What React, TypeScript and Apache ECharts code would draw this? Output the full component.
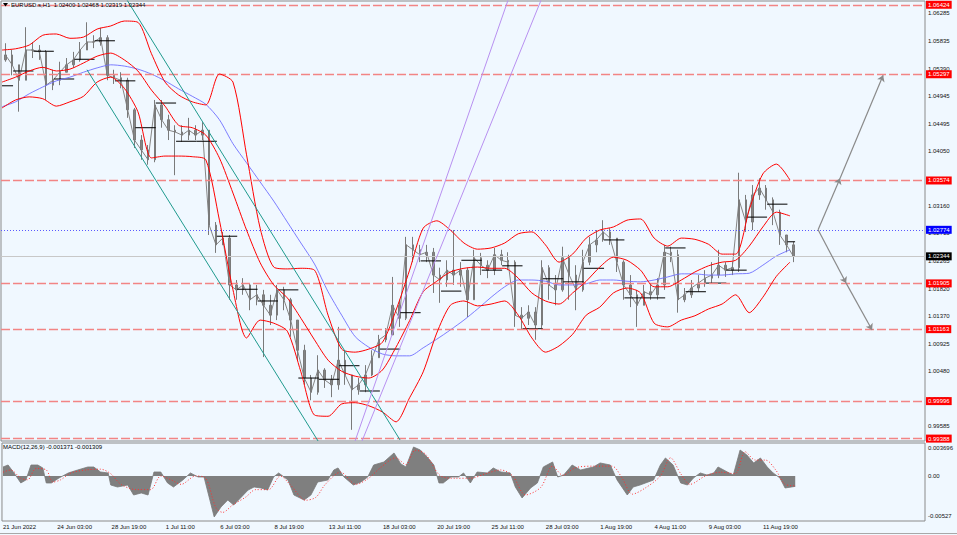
import React, { useEffect, useRef } from 'react';
import * as echarts from 'echarts';

const FONT = "'Liberation Sans', Arial, sans-serif";
const BG = '#F0F8FF';

// ---- axes -----------------------------------------------------------------
const X_MIN = -1.2;
const X_MAX = 1087;
const Y_MIN = 0.99349;
const Y_MAX = 1.06485;
const M_MIN = -0.00594;
const M_MAX = 0.004356;

const xTickBars = [0, 64, 128, 192, 256, 320, 384, 448, 512, 576, 640, 704, 768, 832, 896];
const xTickLabels = [
  '21 Jun 2022', '24 Jun 03:00', '28 Jun 19:00', '1 Jul 11:00', '6 Jul 03:00', '8 Jul 19:00',
  '13 Jul 11:00', '18 Jul 03:00', '20 Jul 19:00', '25 Jul 11:00', '28 Jul 03:00', '1 Aug 19:00',
  '4 Aug 11:00', '9 Aug 03:00', '11 Aug 19:00',
];
const priceTicks = [
  1.06285, 1.05835, 1.0539, 1.04945, 1.04495, 1.0405, 1.03605, 1.0316, 1.02715, 1.02265,
  1.0182, 1.0137, 1.00925, 1.0048, 1.00035, 0.99585,
];
const macdTicks = [0.003696, 0, -0.00527];
const macdTickLabels = ['0.003696', '0.00', '-0.00527'];

// ---- price (8 H1 bars per candle) ----------------------------------------
const barsPerCandle = 8;
const firstOpen = 1.0553;
const closes = [
  1.0561, 1.0545, 1.052, 1.0569, 1.0569, 1.0566, 1.0512, 1.052, 1.0533, 1.0545,
  1.0553, 1.0569, 1.0582, 1.0582, 1.0589, 1.0528, 1.0524, 1.052, 1.0472, 1.0423,
  1.0407, 1.0391, 1.048, 1.0456, 1.0439, 1.0436, 1.0431, 1.0439, 1.0431, 1.0439,
  1.0285, 1.0253, 1.0264, 1.0188, 1.018, 1.0188, 1.0164, 1.0172, 1.0155, 1.0139,
  1.018, 1.0164, 1.0131, 1.0082, 1.0037, 1.0014, 1.005, 1.0034, 1.0026, 1.0066,
  1.0042, 1.0018, 1.0026, 1.0042, 1.007, 1.0099, 1.0107, 1.0155, 1.0134, 1.0253,
  1.0245, 1.0237, 1.0241, 1.0204, 1.0196, 1.0212, 1.0204, 1.0212, 1.0164, 1.0232,
  1.022, 1.0212, 1.0237, 1.0228, 1.0225, 1.0139, 1.0134, 1.0144, 1.0123, 1.0216,
  1.0188, 1.018, 1.0232, 1.0204, 1.018, 1.0225, 1.0253, 1.0261, 1.0274, 1.0264,
  1.0225, 1.0188, 1.0172, 1.0155, 1.0177, 1.0172, 1.0188, 1.0241, 1.0237, 1.0164,
  1.0172, 1.0183, 1.0191, 1.0199, 1.0204, 1.022, 1.0212, 1.0216, 1.0326, 1.029,
  1.0334, 1.0345, 1.0326, 1.0306, 1.0269, 1.0253, 1.02344,
];
const highs = [
  1.058, 1.0569, 1.0545, 1.0606, 1.0582, 1.0577, 1.0569, 1.0537, 1.055, 1.0556,
  1.0566, 1.0582, 1.0614, 1.0593, 1.0605, 1.0593, 1.0537, 1.0533, 1.0524, 1.0475,
  1.0431, 1.0415, 1.0488, 1.0488, 1.0464, 1.0447, 1.0447, 1.0459, 1.0447, 1.0452,
  1.0439, 1.029, 1.0274, 1.0269, 1.0196, 1.0199, 1.0191, 1.0188, 1.018, 1.0172,
  1.0188, 1.0185, 1.0167, 1.0131, 1.0091, 1.0042, 1.0074, 1.0053, 1.0042, 1.012,
  1.0082, 1.0042, 1.0037, 1.0058, 1.0082, 1.0107, 1.0118, 1.0201, 1.0164, 1.0266,
  1.0266, 1.0253, 1.0253, 1.0248, 1.0216, 1.0228, 1.0277, 1.0225, 1.0216, 1.0245,
  1.024, 1.0228, 1.0248, 1.0245, 1.0241, 1.0228, 1.0152, 1.0155, 1.0152, 1.0228,
  1.022, 1.0204, 1.025, 1.0237, 1.022, 1.0245, 1.0266, 1.0277, 1.0293, 1.028,
  1.0264, 1.0228, 1.0204, 1.018, 1.0188, 1.0191, 1.0199, 1.0253, 1.025, 1.0245,
  1.0183, 1.0196, 1.0204, 1.0212, 1.0225, 1.0245, 1.0225, 1.0225, 1.037, 1.0334,
  1.035, 1.0361, 1.035, 1.033, 1.031, 1.0269, 1.0258,
];
const lows = [
  1.055, 1.0528, 1.0469, 1.052, 1.0556, 1.0553, 1.0488, 1.0504, 1.0512, 1.0533,
  1.054, 1.055, 1.0569, 1.0572, 1.0576, 1.052, 1.0514, 1.0507, 1.0459, 1.041,
  1.0391, 1.0383, 1.0387, 1.0443, 1.0423, 1.0366, 1.042, 1.0423, 1.0423, 1.0423,
  1.0269, 1.024, 1.0253, 1.0164, 1.0164, 1.0172, 1.0147, 1.0155, 1.0071, 1.0123,
  1.0131, 1.0147, 1.0104, 1.0066, 1.0026, 1.0001, 1.001, 1.0021, 1.0006, 1.0018,
  1.0026, 0.9953, 1.001, 1.0014, 1.004, 1.007, 1.0095, 1.0107, 1.012, 1.0131,
  1.0225, 1.0225, 1.0225, 1.0175, 1.0159, 1.0185, 1.0188, 1.0185, 1.0136, 1.0164,
  1.0204, 1.0199, 1.0204, 1.022, 1.0212, 1.012, 1.0115, 1.0123, 1.0099, 1.0115,
  1.0164, 1.0155, 1.0177, 1.0164, 1.0147, 1.0177, 1.022, 1.0241, 1.0258, 1.0253,
  1.0209, 1.0164, 1.0152, 1.012, 1.0155, 1.0164, 1.0164, 1.018, 1.0225, 1.0143,
  1.016, 1.0167, 1.0177, 1.0185, 1.0191, 1.0199, 1.0201, 1.0204, 1.0209, 1.0274,
  1.0277, 1.0326, 1.031, 1.0285, 1.0253, 1.0241, 1.0225,
];

// ---- Bollinger bands and moving average (one point every 16 H1 bars) ------
const bandStep = 16;
const bbUpper = [
  1.0569, 1.0571, 1.0577, 1.0593, 1.0595, 1.0588, 1.059, 1.0603, 1.0608, 1.0616,
  1.0614, 1.0563, 1.0517, 1.0496, 1.0485, 1.048, 1.053, 1.0517, 1.0399, 1.028,
  1.0217, 1.0214, 1.0215, 1.0212, 1.0139, 1.0084, 1.0079, 1.0084, 1.0095, 1.0147,
  1.0212, 1.028, 1.0292, 1.0277, 1.0256, 1.0246, 1.0248, 1.0256, 1.0271, 1.0274,
  1.0253, 1.0225, 1.0238, 1.0264, 1.0277, 1.0282, 1.0293, 1.0295, 1.0264, 1.0251,
  1.0264, 1.0262, 1.0254, 1.0238, 1.0238, 1.031, 1.0368, 1.0384, 1.0358,
];
const bbMiddle = [
  1.0517, 1.0525, 1.0535, 1.0541, 1.0535, 1.0538, 1.0548, 1.0559, 1.0564, 1.0553,
  1.0535, 1.0504, 1.0478, 1.0447, 1.0443, 1.0431, 1.0394, 1.0337, 1.0277, 1.0224,
  1.0188, 1.0167, 1.0134, 1.0099, 1.0066, 1.0048, 1.004, 1.0037, 1.005, 1.0087,
  1.013, 1.0177, 1.0194, 1.0209, 1.0215, 1.0217, 1.0215, 1.0215, 1.0199, 1.0175,
  1.0162, 1.0157, 1.0175, 1.0194, 1.0217, 1.0233, 1.0228, 1.0212, 1.0185, 1.0185,
  1.0196, 1.0209, 1.0219, 1.0225, 1.0228, 1.0251, 1.0282, 1.0306, 1.03,
];
const bbLower = [
  1.0475, 1.0488, 1.0493, 1.049, 1.0478, 1.0485, 1.0494, 1.0517, 1.0525, 1.0507,
  1.0469, 1.0394, 1.0397, 1.0397, 1.0396, 1.0391, 1.0293, 1.018, 1.0102, 1.0131,
  1.0126, 1.0113, 1.0047, 0.9977, 0.9975, 0.9995, 0.9997, 0.9992, 0.9982, 0.9966,
  1.0005, 1.0047, 1.011, 1.0155, 1.0162, 1.0154, 1.0157, 1.0162, 1.0139, 1.0102,
  1.0079, 1.0089, 1.0108, 1.0139, 1.0152, 1.0175, 1.0183, 1.0175, 1.0126, 1.012,
  1.0131, 1.0138, 1.0149, 1.0157, 1.0172, 1.0143, 1.0168, 1.0202, 1.0225,
];
const maBlue = [
  1.0477, 1.0485, 1.0498, 1.0509, 1.0519, 1.0525, 1.0533, 1.054, 1.0545, 1.0543,
  1.0538, 1.053, 1.0519, 1.0506, 1.0494, 1.0481, 1.0456, 1.0417, 1.0386, 1.0355,
  1.0324, 1.029, 1.0256, 1.0222, 1.0177, 1.0139, 1.0104, 1.0087, 1.0076, 1.0073,
  1.0073, 1.0086, 1.01, 1.0115, 1.0131, 1.0149, 1.0168, 1.0185, 1.0196, 1.0196,
  1.0194, 1.0188, 1.0188, 1.019, 1.0196, 1.0196, 1.0194, 1.0193, 1.0196, 1.0201,
  1.0206, 1.0206, 1.0204, 1.0204, 1.0206, 1.0207, 1.022, 1.0235, 1.0245,
];

// ---- daily level segments ------------------------------------------------
const lastBar = 934;
const dayStarts = [
  0, 13, 37, 61, 85, 109, 133, 157, 181, 205, 229, 253, 277, 301, 325, 349, 373, 397, 421, 445,
  469, 493, 517, 541, 565, 589, 613, 637, 661, 685, 709, 733, 757, 781, 805, 829, 853, 877, 901, 925,
];
const dayLevels = [
  1.0511, 1.0535, 1.0567, 1.0522, 1.0554, 1.0584, 1.0519, 1.0443, 1.0483, 1.0421,
  1.0421, 1.0267, 1.0181, 1.0162, 1.018, 1.0037, 1.0035, 1.0057, 1.0016, 1.0084,
  1.0143, 1.0227, 1.0178, 1.0228, 1.0212, 1.0219, 1.0117, 1.0198, 1.0193, 1.0215,
  1.0261, 1.0167, 1.0167, 1.0248, 1.0177, 1.0191, 1.0212, 1.0298, 1.0319, 1.0258,
];

// ---- horizontal levels ---------------------------------------------------
const redLevels = [1.06424, 1.05297, 1.03574, 1.01905, 1.01163, 0.99996, 0.99388];
const blueLevel = 1.02774;
const bidLevel = 1.02344;

// ---- drawn objects (bar index, price) ------------------------------------
const tealChannelA = [[147.2, 1.06501], [468.8, 0.99365]];
const tealChannelB = [[100.1, 1.0537], [372.2, 0.99349]];
const purpleLineC = [[415.8, 0.99349], [596.0, 1.06501]];
const purpleLineD = [[424.0, 0.99349], [634.9, 1.06501]];
const arrowSegments = [
  [[961.1, 1.02774], [987.0, 1.0361]],
  [[987.0, 1.0361], [1037.7, 1.0528]],
  [[961.1, 1.02774], [994.1, 1.0191]],
  [[994.1, 1.0191], [1024.7, 1.0115]],
];

// ---- MACD ----------------------------------------------------------------
const macdX = [
  0, 6, 13, 21, 27, 33, 41, 47, 51, 57, 66, 77, 88, 100, 107, 115, 124, 127, 135, 147,
  154, 163, 171, 178, 186, 194, 201, 212, 221, 230, 237, 243, 249, 257, 265, 272, 280, 289, 296, 304,
  312, 319, 325, 336, 343, 355, 363, 371, 383, 390, 395, 402, 413, 422, 430, 437, 449, 461, 469, 475,
  484, 492, 501, 508, 514, 519, 528, 537, 543, 551, 559, 571, 578, 587, 598, 604, 612, 622, 630, 637,
  648, 654, 661, 671, 681, 696, 704, 716, 724, 736, 743, 751, 767, 775, 781, 790, 799, 807, 814, 822,
  830, 838, 843, 854, 861, 869, 877, 885, 893, 901, 908, 916, 922, 934,
];
const macdY = [
  0.00119, 0.00145, 0.0004, -0.00092, -0.00053, 0.00145, 0.00145, 0.00106, -0.00092, -0.00092,
  -0.00026, 0.0004, 0.00079, 0.00119, 0.00119, 0.00053, 0.0004, -0.00119, -0.00145, -0.00119,
  -0.00251, -0.00224, -0.00251, 0.00053, 0.00053, -0.00092, -0.00145, -0.00053, 0.0004, -0.00013,
  -0.00013, -0.00277, -0.00541, -0.00409, -0.00317, -0.00383, -0.0029, -0.00185, -0.00145, -0.00158,
  -0.00185, -0.00013, 0.0004, -0.00053, -0.00251, -0.00317, -0.00251, -0.00079, -0.00053, 0.00079,
  0.00106, -0.00013, -0.00119, -0.00079, -0.00013, 0.00145, 0.00185, 0.00304, 0.0016, 0.0012,
  0.00383, 0.00343, 0.00238, 0.00145, -0.00092, -0.00092, -0.00013, -0.00013, 0.0004, -0.00092,
  0.00053, 0.0004, 0.00106, 0.00053, 0.0004, -0.00145, -0.0029, -0.00158, -0.00092, 0.00119,
  0.00185, -0.00013, 0.00013, 0.00145, 0.00079, 0.00119, 0.00172, 0.00145, -0.00053, -0.00251,
  -0.00145, -0.00119, -0.00053, 0.00145, 0.00238, 0.00145, -0.00092, -0.00119, -0.00026, 0.0004,
  0.00013, 0.0004, 0.00119, 0.00053, 0.00013, 0.00343, 0.00277, 0.00172, 0.00238, 0.00119,
  0.0004, -0.00026, -0.00158, -0.00137,
];
const signalX = [
  0, 9, 21, 29, 39, 51, 59, 68, 80, 98, 115, 127, 139, 157, 174, 186, 198, 210, 227, 239,
  251, 259, 271, 286, 298, 313, 327, 339, 357, 369, 380, 398, 416, 431, 445, 463, 475, 486, 498, 516,
  534, 551, 569, 587, 601, 616, 634, 648, 660, 675, 698, 718, 730, 742, 757, 775, 787, 799, 810, 828,
  846, 863, 875, 887, 899, 911, 922, 934,
];
const signalY = [
  0.0005, 0.0008, -0.0003, -0.0005, 0.001, 0.0008, -0.0008, -0.0005, 0.0004, 0.0008,
  0.0009, 0.0003, -0.0011, -0.0018, -0.0018, 0, -0.0005, -0.0011, 0, -0.0003,
  -0.0042, -0.0048, -0.0038, -0.0028, -0.0018, -0.0018, 0, -0.0012, -0.0032, -0.0028,
  -0.0011, 0.0005, -0.0011, -0.0003, 0.0011, 0.0024, 0.0015, 0.0034, 0.0029, 0,
  -0.0003, -0.0003, 0.0003, 0.0008, 0, -0.0025, -0.0015, 0.0013, 0.0001, 0.0011,
  0.0013, 0.0013, -0.0003, -0.0024, -0.0016, 0, 0.0024, 0.0003, -0.0011, 0,
  0.0005, 0.0003, 0.0032, 0.0021, 0.0021, 0.0008, -0.0011, -0.0013,
];

const headerText = 'EURUSD.s,H1  1.02400 1.02468 1.02319 1.02344';
const macdHeaderText = 'MACD(12,26,9) -0.001371 -0.001309';

function pickLabel(v: number, values: number[], labels: string[]) {
  for (let i = 0; i < values.length; i++) {
    if (Math.abs(values[i] - v) < 1e-7) return labels[i];
  }
  return '';
}

function buildOption() {
  const candles = closes.map((c, i) => {
    const o = i === 0 ? firstOpen : closes[i - 1];
    return [i * barsPerCandle + barsPerCandle / 2, o, c, lows[i], highs[i]];
  });
  const closeLine = closes.map((c, i) => [i * barsPerCandle + barsPerCandle / 2, c]);
  const band = (arr: number[]) => arr.map((v, i) => [i * bandStep, v]);
  const segs: any[] = [];
  dayStarts.forEach((s, i) => {
    const e = i + 1 < dayStarts.length ? dayStarts[i + 1] : lastBar;
    segs.push([s, dayLevels[i]], [e, dayLevels[i]], [e, '-']);
  });
  const macd = macdX.map((x, i) => [x, macdY[i]]);
  const signal = signalX.map((x, i) => [x, signalY[i]]);

  const lvlLabel = (bg: string) => ({
    show: true,
    position: 'end',
    distance: 1,
    formatter: (p: any) => Number(p.value).toFixed(5),
    backgroundColor: bg,
    color: '#ffffff',
    fontSize: 6,
    fontFamily: FONT,
    padding: [1, 2, 0, 2],
    lineHeight: 7,
  });

  const levelData: any[] = redLevels.map((v) => ({
    yAxis: v,
    lineStyle: { color: '#F28585', type: [9, 3], width: 1.3 },
    label: lvlLabel('#FF0000'),
  }));
  levelData.push({
    yAxis: blueLevel,
    lineStyle: { color: '#5a5aff', type: [1, 2], width: 1 },
    label: lvlLabel('#0000FF'),
  });
  levelData.push({
    yAxis: bidLevel,
    lineStyle: { color: '#c8c8c8', type: 'solid', width: 1 },
    label: lvlLabel('#000000'),
  });

  const trend = (data: number[][], color: string, width = 1) => ({
    type: 'line',
    xAxisIndex: 0,
    yAxisIndex: 0,
    data,
    showSymbol: false,
    silent: true,
    lineStyle: { color, width },
    z: 6,
  });

  return {
    animation: false,
    backgroundColor: BG,
    textStyle: { fontFamily: FONT },
    grid: [
      { left: 1, right: 32, top: 1, height: 440, show: true, borderColor: '#8a8a8a', borderWidth: 1, backgroundColor: BG },
      { left: 1, right: 32, top: 443, height: 78, show: true, borderColor: '#8a8a8a', borderWidth: 1, backgroundColor: BG },
    ],
    xAxis: [
      { type: 'value', gridIndex: 0, min: X_MIN, max: X_MAX, show: false },
      {
        type: 'value',
        gridIndex: 1,
        min: X_MIN,
        max: X_MAX,
        axisLine: { show: false },
        axisTick: { show: false },
        splitLine: { show: false },
        axisLabel: {
          customValues: xTickBars,
          formatter: (v: number) => pickLabel(v, xTickBars, xTickLabels),
          align: 'left',
          margin: 3,
          fontSize: 6,
          color: '#111',
          fontFamily: FONT,
          showMinLabel: true,
          showMaxLabel: true,
        },
      },
    ],
    yAxis: [
      {
        type: 'value',
        gridIndex: 0,
        position: 'right',
        min: Y_MIN,
        max: Y_MAX,
        axisLine: { show: false },
        axisTick: { show: false },
        splitLine: { show: false },
        axisLabel: {
          customValues: priceTicks,
          formatter: (v: number) => v.toFixed(5),
          align: 'left',
          margin: 3,
          fontSize: 6,
          color: '#111',
          fontFamily: FONT,
        },
      },
      {
        type: 'value',
        gridIndex: 1,
        position: 'right',
        min: M_MIN,
        max: M_MAX,
        axisLine: { show: false },
        axisTick: { show: false },
        splitLine: { show: false },
        axisLabel: {
          customValues: macdTicks,
          formatter: (v: number) => pickLabel(v, macdTicks, macdTickLabels),
          align: 'left',
          margin: 3,
          fontSize: 6,
          color: '#111',
          fontFamily: FONT,
        },
      },
    ],
    graphic: [
      { type: 'polygon', shape: { points: [[3, 3], [8, 3], [5.5, 6.5]] }, style: { fill: '#000' }, z: 100 },
      { type: 'text', left: 11, top: 2, z: 100, style: { text: headerText, fontSize: 6, fill: '#000', fontFamily: FONT } },
      { type: 'text', left: 3, top: 444, z: 100, style: { text: macdHeaderText, fontSize: 6, fill: '#000', fontFamily: FONT } },
      { type: 'line', shape: { x1: 0, y1: 533.5, x2: 957, y2: 533.5 }, style: { stroke: '#a8a8a8', lineWidth: 1 } },
    ],
    series: [
      {
        name: 'levels',
        type: 'line',
        xAxisIndex: 0,
        yAxisIndex: 0,
        data: [[X_MIN, Y_MIN]],
        showSymbol: false,
        lineStyle: { width: 0 },
        silent: true,
        z: 1,
        markLine: { silent: true, symbol: ['none', 'none'], precision: 5, animation: false, data: levelData },
      },
      {
        name: 'priceLine',
        type: 'line',
        xAxisIndex: 0,
        yAxisIndex: 0,
        data: closeLine,
        showSymbol: false,
        silent: true,
        lineStyle: { color: '#858585', width: 1 },
        z: 3,
      },
      {
        name: 'price',
        type: 'candlestick',
        xAxisIndex: 0,
        yAxisIndex: 0,
        data: candles,
        encode: { x: 0, y: [1, 2, 3, 4] },
        barWidth: 2,
        silent: true,
        itemStyle: { color: '#858585', color0: '#858585', borderColor: '#7a7a7a', borderColor0: '#7a7a7a', borderWidth: 1 },
        z: 3,
      },
      {
        name: 'daily',
        type: 'line',
        xAxisIndex: 0,
        yAxisIndex: 0,
        data: segs,
        showSymbol: false,
        connectNulls: false,
        silent: true,
        lineStyle: { color: '#000', width: 1 },
        z: 4,
      },
      { ...trend(band(maBlue), '#6e6eff', 0.9), smooth: 0.25, z: 4 },
      { ...trend(band(bbUpper), '#ff0000', 1), smooth: 0.25, z: 5 },
      { ...trend(band(bbMiddle), '#ff0000', 1), smooth: 0.25, z: 5 },
      { ...trend(band(bbLower), '#ff0000', 1), smooth: 0.25, z: 5 },
      trend(tealChannelA, '#1f9a8e', 1),
      trend(tealChannelB, '#1f9a8e', 1),
      trend(purpleLineC, '#b890f0', 1),
      trend(purpleLineD, '#b890f0', 1),
      {
        name: 'arrows',
        type: 'line',
        xAxisIndex: 0,
        yAxisIndex: 0,
        data: [[X_MIN, Y_MIN]],
        showSymbol: false,
        lineStyle: { width: 0 },
        silent: true,
        z: 6,
        markLine: {
          silent: true,
          symbol: ['none', 'arrow'],
          symbolSize: 6,
          precision: 5,
          label: { show: false },
          lineStyle: { color: '#8a8a8a', width: 1.2, type: 'solid' },
          data: arrowSegments.map((s) => [{ coord: s[0] }, { coord: s[1] }]),
        },
      },
      {
        name: 'MACD',
        type: 'line',
        xAxisIndex: 1,
        yAxisIndex: 1,
        data: macd,
        showSymbol: false,
        silent: true,
        lineStyle: { color: '#7a7a7a', width: 0.8 },
        areaStyle: { color: '#7f7f7f', opacity: 1 },
        z: 3,
      },
      {
        name: 'Signal',
        type: 'line',
        xAxisIndex: 1,
        yAxisIndex: 1,
        data: signal,
        smooth: 0.3,
        showSymbol: false,
        silent: true,
        lineStyle: { color: '#ff3030', width: 1, type: [1, 2] },
        z: 4,
      },
    ],
  };
}

export default function App() {
  const ref = useRef<HTMLDivElement>(null);
  useEffect(() => {
    document.body.style.margin = '0';
    document.body.style.background = BG;
    if (!ref.current) return;
    const chart = echarts.init(ref.current, undefined, { renderer: 'svg' });
    chart.setOption(buildOption() as any);
    return () => chart.dispose();
  }, []);
  return (
    <div
      ref={ref}
      style={{ position: 'absolute', left: 0, top: 0, width: '957px', height: '535px', background: BG }}
    />
  );
}
